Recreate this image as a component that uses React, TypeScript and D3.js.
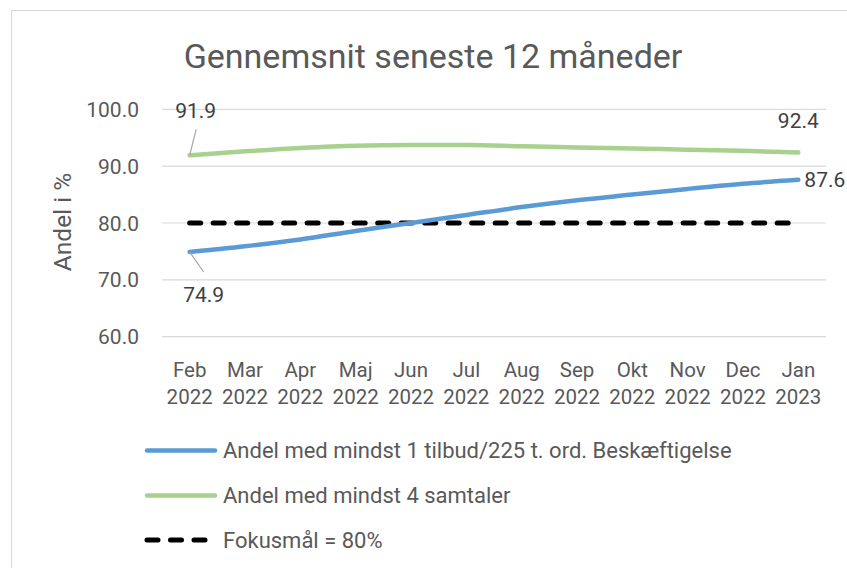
import { useEffect, useRef } from 'react';
import * as d3 from 'd3';

const months = ['Feb', 'Mar', 'Apr', 'Maj', 'Jun', 'Jul', 'Aug', 'Sep', 'Okt', 'Nov', 'Dec', 'Jan'];
const years = ['2022', '2022', '2022', '2022', '2022', '2022', '2022', '2022', '2022', '2022', '2022', '2023'];
const tilbud = [74.9, 75.9, 77.1, 78.6, 80.0, 81.4, 82.8, 84.0, 85.0, 86.0, 86.9, 87.6];
const samtaler = [91.9, 92.6, 93.2, 93.6, 93.7, 93.7, 93.5, 93.3, 93.1, 92.9, 92.7, 92.4];
const fokus = 80;
const yTicks = [60, 70, 80, 90, 100];
const legendLabels = [
  'Andel med mindst 1 tilbud/225 t. ord. Beskæftigelse',
  'Andel med mindst 4 samtaler',
  'Fokusmål = 80%',
];

const W = 847;
const H = 568;
const FONT = 'Roboto, "Liberation Sans", sans-serif';
const BLUE = '#5b9bd5';
const GREEN = '#a9d18e';
const TEXT = '#595959';
const DASH = '11 12.5';

export default function App() {
  const svgRef = useRef<SVGSVGElement>(null);

  useEffect(() => {
    if (!svgRef.current) return;
    const svg = d3.select(svgRef.current);
    svg.selectAll('*').remove();

    const keys = months.map((m, i) => m + i);
    const x = d3.scalePoint<string>().domain(keys).range([162, 826]).padding(0.5);
    const y = d3.scaleLinear().domain([60, 100]).range([336.7, 109.3]);

    // chart border
    svg.append('rect')
      .attr('x', 11.5).attr('y', 10.5).attr('width', 900).attr('height', 700)
      .attr('fill', 'white').attr('stroke', '#d9d9d9');

    svg.append('text')
      .attr('x', 433).attr('y', 68)
      .attr('text-anchor', 'middle')
      .attr('font-size', 34)
      .attr('fill', TEXT)
      .text('Gennemsnit seneste 12 måneder');

    // gridlines + y ticks
    const grid = svg.append('g');
    yTicks.forEach((t) => {
      grid.append('line')
        .attr('x1', 162).attr('x2', 826)
        .attr('y1', y(t)).attr('y2', y(t))
        .attr('stroke', '#d9d9d9').attr('stroke-width', 1.2);
      grid.append('text')
        .attr('x', 139).attr('y', y(t)).attr('dy', '0.36em')
        .attr('text-anchor', 'end').attr('font-size', 21).attr('fill', TEXT)
        .text(t.toFixed(1));
    });

    svg.append('text')
      .attr('transform', `translate(71,222) rotate(-90)`)
      .attr('text-anchor', 'middle').attr('font-size', 24.5).attr('fill', TEXT)
      .text('Andel i %');

    // x tick labels
    keys.forEach((k, i) => {
      const t = svg.append('text')
        .attr('x', x(k)!).attr('text-anchor', 'middle')
        .attr('font-size', 20.5).attr('fill', TEXT);
      t.append('tspan').attr('x', x(k)!).attr('y', 377).text(months[i]);
      t.append('tspan').attr('x', x(k)!).attr('y', 404).text(years[i]);
    });

    const line = d3.line<number>()
      .x((_, i) => x(keys[i])!)
      .y((d) => y(d))
      .curve(d3.curveMonotoneX);

    // target line
    svg.append('line')
      .attr('x1', x(keys[0])!).attr('x2', x(keys[keys.length - 1])!)
      .attr('y1', y(fokus)).attr('y2', y(fokus))
      .attr('stroke', '#000').attr('stroke-width', 5)
      .attr('stroke-linecap', 'round').attr('stroke-dasharray', DASH);

    svg.append('path').datum(samtaler)
      .attr('d', line).attr('fill', 'none')
      .attr('stroke', GREEN).attr('stroke-width', 4.5).attr('stroke-linecap', 'round');

    svg.append('path').datum(tilbud)
      .attr('d', line).attr('fill', 'none')
      .attr('stroke', BLUE).attr('stroke-width', 4.5).attr('stroke-linecap', 'round');

    // data labels
    const first = keys[0];
    const last = keys[keys.length - 1];
    const lbl = svg.append('g').attr('font-size', 21).attr('fill', '#404040');

    lbl.append('line')
      .attr('x1', x(first)!).attr('y1', y(samtaler[0]))
      .attr('x2', x(first)! + 6.5).attr('y2', y(samtaler[0]) - 26)
      .attr('stroke', '#a6a6a6').attr('stroke-width', 1.2);
    lbl.append('text')
      .attr('x', x(first)! + 6).attr('y', y(samtaler[0]) - 37)
      .attr('text-anchor', 'middle').text(samtaler[0].toFixed(1));

    lbl.append('line')
      .attr('x1', x(first)!).attr('y1', y(tilbud[0]))
      .attr('x2', x(first)! + 14).attr('y2', y(tilbud[0]) + 20)
      .attr('stroke', '#a6a6a6').attr('stroke-width', 1.2);
    lbl.append('text')
      .attr('x', x(first)! + 14).attr('y', y(tilbud[0]) + 50)
      .attr('text-anchor', 'middle').text(tilbud[0].toFixed(1));

    lbl.append('text')
      .attr('x', x(last)!).attr('y', y(samtaler[11]) - 25)
      .attr('text-anchor', 'middle').text(samtaler[11].toFixed(1));

    lbl.append('text')
      .attr('x', x(last)! + 6).attr('y', y(tilbud[11])).attr('dy', '0.36em')
      .attr('text-anchor', 'start').text(tilbud[11].toFixed(1));

    // legend
    const legend = svg.append('g');
    const rows = [
      { color: BLUE, dash: null, y: 450.5 },
      { color: GREEN, dash: null, y: 495.5 },
      { color: '#000', dash: DASH, y: 540 },
    ];
    rows.forEach((r, i) => {
      legend.append('line')
        .attr('x1', 147).attr('x2', r.dash ? 212 : 215)
        .attr('y1', r.y).attr('y2', r.y)
        .attr('stroke', r.color).attr('stroke-width', r.dash ? 5 : 4.5)
        .attr('stroke-linecap', 'round')
        .attr('stroke-dasharray', r.dash ?? null);
      legend.append('text')
        .attr('x', 223).attr('y', r.y).attr('dy', '0.36em')
        .attr('font-size', 22).attr('fill', TEXT)
        .text(legendLabels[i]);
    });
  }, []);

  return (
    <svg
      ref={svgRef}
      width={W}
      height={H}
      viewBox={`0 0 ${W} ${H}`}
      style={{ position: 'absolute', left: 0, top: 0, fontFamily: FONT, background: 'white' }}
    ></svg>
  );
}
